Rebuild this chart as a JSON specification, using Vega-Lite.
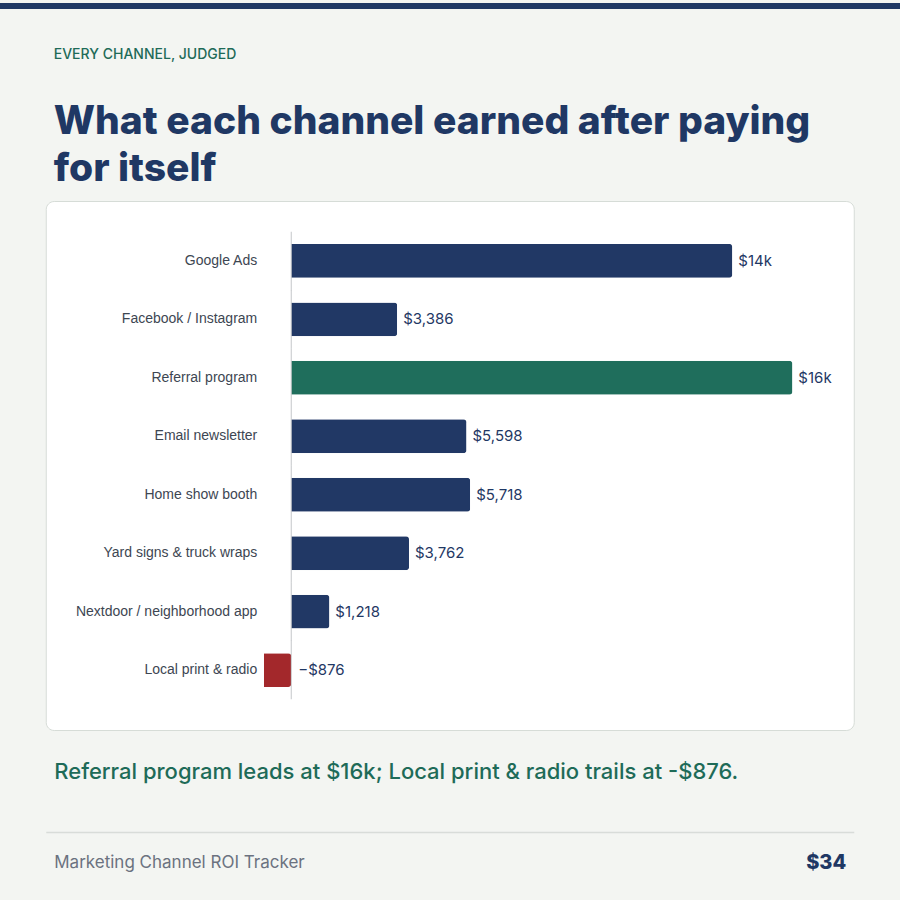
{
  "$schema": "https://vega.github.io/schema/vega-lite/v6.json",
  "background": "#F3F5F2",
  "padding": {"left": 0, "top": 0, "right": 0, "bottom": 40},
  "spacing": 36,
  "center": true,
  "vconcat": [
    {
      "width": 900,
      "height": 6,
      "view": {"fill": "#1F3864", "stroke": null},
      "data": {"values": [{"band": "top"}]},
      "mark": {"type": "text", "text": " "},
      "encoding": {}
    },
    {
      "width": 808,
      "height": 529,
      "view": {"fill": "#FFFFFF", "stroke": "#D6DCD7", "strokeWidth": 1, "cornerRadius": 8},
      "title": {
        "text": "EVERY CHANNEL, JUDGED",
        "subtitle": ["What each channel earned after paying", "for itself"],
        "anchor": "start",
        "frame": "group",
        "dx": 8,
        "offset": 12,
        "font": "Inter",
        "fontSize": 14,
        "fontWeight": 500,
        "color": "#1E6B58",
        "subtitleFont": "Inter",
        "subtitleFontSize": 39,
        "subtitleFontWeight": 800,
        "subtitleColor": "#1F3864",
        "subtitleLineHeight": 47,
        "subtitlePadding": 41
      },
      "data": {
        "values": [
          {"channel": "Google Ads", "roi": 14090, "tier": "base"},
          {"channel": "Facebook / Instagram", "roi": 3386, "tier": "base"},
          {"channel": "Referral program", "roi": 16010, "tier": "top"},
          {"channel": "Email newsletter", "roi": 5598, "tier": "base"},
          {"channel": "Home show booth", "roi": 5718, "tier": "base"},
          {"channel": "Yard signs & truck wraps", "roi": 3762, "tier": "base"},
          {"channel": "Nextdoor / neighborhood app", "roi": 1218, "tier": "base"},
          {"channel": "Local print & radio", "roi": -876, "tier": "loss"}
        ]
      },
      "encoding": {
        "y": {
          "field": "channel",
          "type": "nominal",
          "sort": null,
          "scale": {"paddingInner": 0.42, "paddingOuter": 0.735},
          "axis": {
            "title": null,
            "orient": "left",
            "offset": -211,
            "domain": false,
            "ticks": false,
            "grid": false,
            "labelPadding": 0,
            "labelLimit": 260,
            "labelFont": "Liberation Sans",
            "labelFontSize": 14,
            "labelColor": "#3D4652"
          }
        }
      },
      "layer": [
        {
          "mark": {"type": "bar", "cornerRadiusEnd": 3},
          "encoding": {
            "x": {
              "field": "roi",
              "type": "quantitative",
              "scale": {"domain": [-7843, 17971], "nice": false, "zero": false},
              "axis": {
                "orient": "bottom",
                "labels": false,
                "ticks": false,
                "domain": false,
                "grid": false,
                "title": "Referral program leads at $16k; Local print & radio trails at -$876.",
                "titleFont": "Inter",
                "titleFontSize": 22,
                "titleFontWeight": 500,
                "titleColor": "#1E6B58",
                "titleAnchor": "start",
                "titleAlign": "left",
                "titleBaseline": "top",
                "titleX": 8,
                "titleY": 31
              }
            },
            "color": {
              "field": "tier",
              "type": "nominal",
              "scale": {"domain": ["base", "top", "loss"], "range": ["#213865", "#1F6E5C", "#A3282B"]},
              "legend": null
            }
          }
        },
        {
          "mark": {"type": "tick", "orient": "vertical", "size": 58.5, "thickness": 1, "color": "#A9AEB2"},
          "encoding": {
            "x": {
              "datum": 0,
              "type": "quantitative",
              "scale": {"domain": [-7843, 17971], "nice": false, "zero": false},
              "axis": {
                "orient": "bottom",
                "labels": false,
                "ticks": false,
                "domain": false,
                "grid": false,
                "title": "$34",
                "titleFont": "Inter",
                "titleFontSize": 20,
                "titleFontWeight": 800,
                "titleColor": "#1F3864",
                "titleAnchor": "end",
                "titleAlign": "right",
                "titleBaseline": "middle",
                "titleX": 800,
                "titleY": 132
              }
            }
          }
        },
        {
          "transform": [{"filter": "datum.roi >= 0"}],
          "mark": {"type": "text", "align": "left", "baseline": "middle", "dx": 6, "font": "Inter", "fontSize": 15, "color": "#1F3864"},
          "encoding": {
            "x": {
              "field": "roi",
              "type": "quantitative",
              "scale": {"domain": [-7843, 17971], "nice": false, "zero": false},
              "axis": {
                "orient": "bottom",
                "offset": 102,
                "labels": false,
                "ticks": false,
                "grid": false,
                "domain": true,
                "domainColor": "#D8DCD9",
                "domainWidth": 1.5,
                "title": "Marketing Channel ROI Tracker",
                "titleFont": "Inter",
                "titleFontSize": 17,
                "titleFontWeight": 400,
                "titleColor": "#6B7280",
                "titleAnchor": "start",
                "titleAlign": "left",
                "titleBaseline": "middle",
                "titleX": 8,
                "titleY": 30
              }
            },
            "text": {
              "condition": {"test": "abs(datum.roi) >= 10000", "field": "roi", "type": "quantitative", "format": "$.2s"},
              "field": "roi",
              "type": "quantitative",
              "format": "$,.0f"
            }
          }
        },
        {
          "transform": [{"filter": "datum.roi < 0"}],
          "mark": {"type": "text", "align": "left", "baseline": "middle", "dx": 7, "font": "Inter", "fontSize": 15, "color": "#1F3864"},
          "encoding": {
            "x": {
              "datum": 0,
              "type": "quantitative",
              "scale": {"domain": [-7843, 17971], "nice": false, "zero": false},
              "axis": null
            },
            "text": {"field": "roi", "type": "quantitative", "format": "$,.0f"}
          }
        }
      ],
      "resolve": {"scale": {"x": "independent"}, "axis": {"x": "independent"}}
    }
  ],
  "config": {
    "font": "Inter",
    "view": {"stroke": null}
  }
}
